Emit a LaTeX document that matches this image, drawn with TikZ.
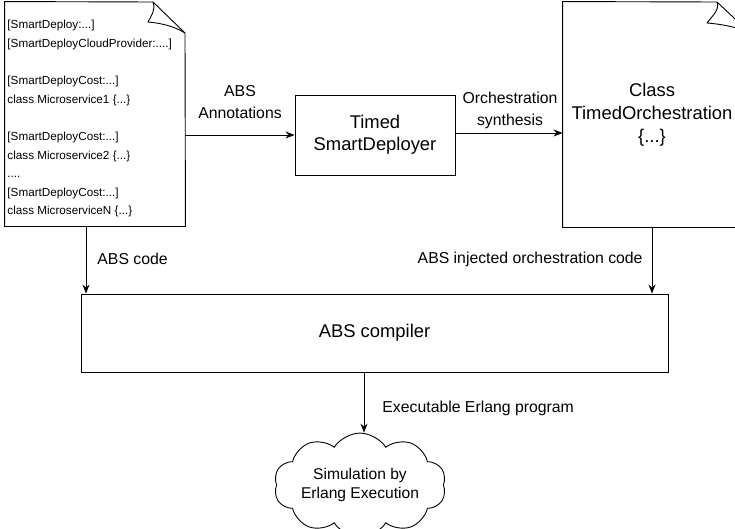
\documentclass[tikz,border=0pt]{standalone}
\usepackage{fontspec}
\setmainfont{Liberation Sans}
\usetikzlibrary{arrows.meta,shapes.symbols}
\begin{document}
\begin{tikzpicture}[x=1pt,y=-1pt,
  line width=0.9pt,
  arr/.style={-{Stealth[length=9pt,width=7pt]}},
  lbl/.style={font=\fontsize{15.8}{22}\selectfont, align=center, inner sep=0pt},
  title/.style={font=\fontsize{18.4}{22}\selectfont, align=center},
  docbox/.style={minimum width=180pt, minimum height=224pt, inner sep=0pt},
  boxst/.style={draw, rectangle, inner sep=0pt}
]
\useasboundingbox (0,0) rectangle (735,529);
\clip (0,0) rectangle (735,529);

% left document
\node[docbox] (docL) at (95,114) {};
\draw (docL.north west) -- (153,2) -- (185,33) -- (docL.south east) -- (docL.south west) -- cycle;
\draw[line join=round] (153,2) .. controls (156,10) and (151,16) .. (148,22) .. controls (160,23) and (174,26) .. (185,33);
\node[anchor=north west, inner sep=0pt, align=left, font=\fontsize{11.7}{18.6}\selectfont] (docLtext) at (7,20)
{\relax[SmartDeploy:...]\\
\relax[SmartDeployCloudProvider:....]\\[18.6pt]
\relax[SmartDeployCost:...]\\
class Microservice1 \{...\}\\[18.6pt]
\relax[SmartDeployCost:...]\\
class Microservice2 \{...\}\\
....\\
\relax[SmartDeployCost:...]\\
class MicroserviceN \{...\}};

% right document
\node[docbox, minimum width=187pt, minimum height=225pt] (docR) at (656.5,114.5) {};
\draw (docR.north west) -- (717,2) -- (750,33) -- (docR.south east) -- (docR.south west) -- cycle;
\draw[line join=round] (717,2) .. controls (720,10) and (712,16) .. (707,23) .. controls (720,24) and (738,27) .. (750,33);
\node[title, font=\fontsize{18.4}{23}\selectfont] (docRtext) at (652,115) {Class\\TimedOrchestration\\\{...\}};

% Timed SmartDeployer
\node[boxst, title, minimum width=160pt, minimum height=80pt] (tsd) at (375,135) {Timed\\SmartDeployer};

% ABS compiler
\node[boxst, minimum width=587pt, minimum height=78pt, font=\fontsize{18.4}{22}\selectfont] (comp) at (374.5,333) {ABS compiler};

% cloud
\node[cloud, draw, cloud puffs=10, cloud puff arc=115, aspect=2.1, inner sep=0pt,
      minimum width=167pt, minimum height=86pt, align=center,
      font=\fontsize{15.6}{19}\selectfont] (sim) at (360,485) {Simulation by\\Erlang Execution};

% connectors
\draw[arr] (docL.east |- 0,135) -- (tsd.west |- 0,135);
\node[lbl] (l1) at (240,102) {ABS\\Annotations};
\draw[arr] (tsd.east |- 0,133) -- (docR.west |- 0,133);
\node[lbl] (l2) at (510,110) {Orchestration\\synthesis};
\coordinate (aL) at (86,0);
\draw[arr] (docL.south -| aL) -- (comp.north -| aL);
\node[lbl, anchor=west] (l3) at (97,259) {ABS code};
\coordinate (aR) at (652,0);
\draw[arr] (docR.south -| aR) -- (comp.north -| aR);
\node[lbl, anchor=east] (l4) at (643,259) {ABS injected orchestration code};
\coordinate (aC) at (364,0);
\draw[arr] (comp.south -| aC) -- (sim.north -| aC);
\node[lbl, anchor=west] (l5) at (382,408) {Executable Erlang program};
\end{tikzpicture}
\end{document}
